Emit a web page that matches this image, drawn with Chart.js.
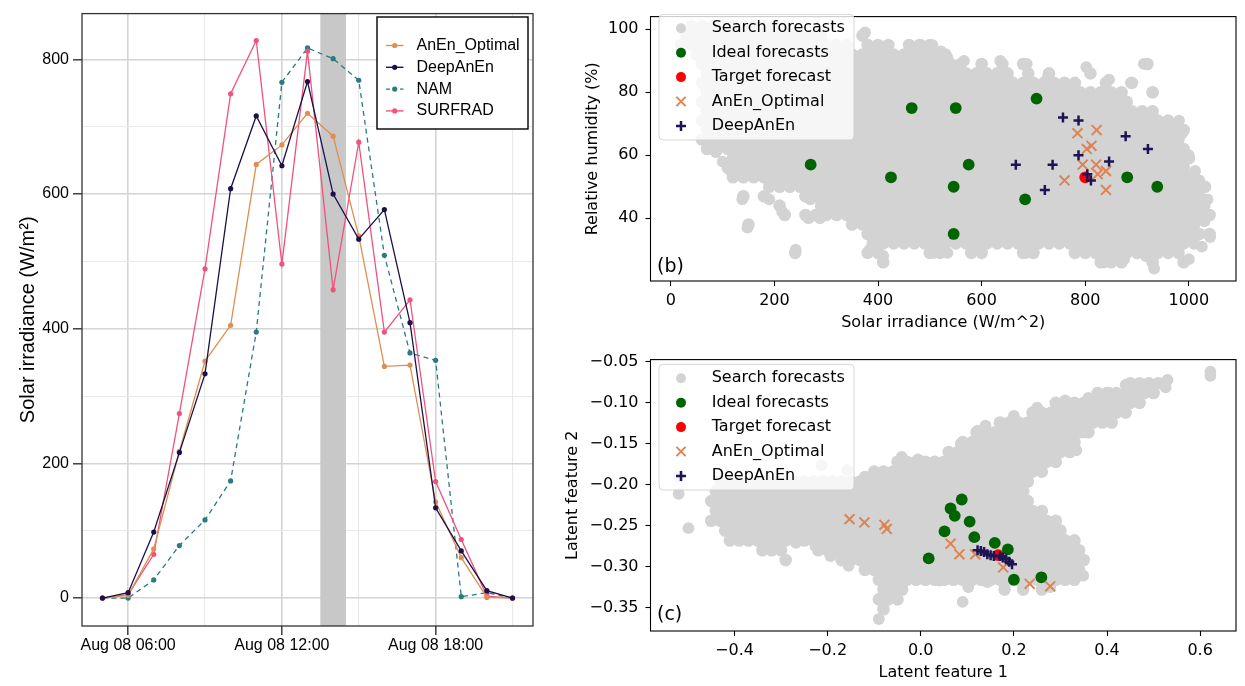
<!DOCTYPE html>
<html>
<head>
<meta charset="UTF-8">
<title>Solar irradiance analogs</title>
<script src="https://cdn.jsdelivr.net/npm/chart.js@4.4.1/dist/chart.umd.min.js"></script>
<style>
  body { margin: 0; background: #fff; }
  #figure { position: relative; width: 1245px; height: 686px; }
  #figure canvas { position: absolute; }
</style>
</head>
<body>
<div id="figure">
  <canvas id="lineChart" width="560" height="686" style="left:0;top:0"></canvas>
  <canvas id="rawChart" width="685" height="343" style="left:560px;top:0"></canvas>
  <canvas id="latentChart" width="685" height="343" style="left:560px;top:343px"></canvas>
</div>
<script>
// (a) hourly irradiance on Aug 08
var hours       = [5, 6, 7, 8, 9, 10, 11, 12, 13, 14, 15, 16, 17, 18, 19, 20, 21];
var anenOptimal = [0, 4, 73, 218, 352, 405, 644, 673, 720, 686, 538, 344, 346, 143, 60, 1, 0];
var deepAnEn    = [0, 8, 98, 216, 333, 608, 716, 642, 767, 600, 533, 577, 409, 134, 70, 11, 0];
var nam         = [0, 0, 27, 78, 116, 174, 395, 766, 817, 801, 769, 509, 364, 353, 2, 8, 0];
var surfrad     = [0, 5, 65, 274, 489, 749, 828, 496, 812, 458, 677, 395, 443, 173, 87, 3, 0];
var hourGrid    = [6, 9, 12, 15, 18, 21];
var labelHours  = [6, 12, 18];
var labelTexts  = ['Aug 08 06:00', 'Aug 08 12:00', 'Aug 08 18:00'];
var irrGrid     = [0, 100, 200, 300, 400, 500, 600, 700, 800];
var irrLabelled = [0, 200, 400, 600, 800];
var shadeFrom = 13.5, shadeTo = 14.5;

// (b) search forecasts, one row per humidity level: [RH, [irradiance...]]
var searchRowsB = [
  [101, [40,60,80,100,120,140,160,180,200,220]],
  [98, [30,50,70,90,110,130,150,170,190,210,230,250,270,290,370]],
  [95, [20,40,60,80,100,120,140,160,180,200,220,240,260,280,300,320,340,380,400,420,460,480,500]],
  [92, [50,70,90,110,130,150,170,190,210,230,250,270,290,310,330,350,370,390,410,430,450,470,490,510,530]],
  [89, [60,80,100,120,140,160,180,200,220,240,260,280,300,320,340,360,380,400,420,440,460,480,500,520,540,560,600,640,680,920]],
  [86, [70,90,110,130,150,170,190,210,230,250,270,290,310,330,350,370,390,410,430,450,470,490,510,530,550,570,590,610,630,650,690,730,810]],
  [83, [60,80,100,120,140,160,180,200,220,240,260,280,300,320,340,360,380,400,420,440,460,480,500,520,540,560,580,600,620,640,660,680,700,720,740,760,780,840,890]],
  [80, [70,90,110,130,150,170,190,210,230,250,270,290,310,330,350,370,390,410,430,450,470,490,510,530,550,570,590,610,630,650,670,690,710,730,750,770,790,810,830,850,870,930]],
  [77, [60,80,100,120,140,160,180,200,220,240,260,280,300,320,340,360,380,400,420,440,460,480,500,520,540,560,580,600,620,640,660,680,700,720,740,760,780,800,820,840,860,880]],
  [74, [70,90,110,130,150,170,190,210,230,250,270,290,310,330,350,370,390,410,430,450,470,490,510,530,550,570,590,610,630,650,670,690,710,730,750,770,790,810,830,850,870,890,910,930]],
  [71, [60,80,100,120,140,160,180,200,220,240,260,280,300,320,340,360,380,400,420,440,460,480,500,520,540,560,580,600,620,640,660,680,700,720,740,760,780,800,820,840,860,880,900,920,940,960]],
  [68, [70,90,110,130,150,170,190,210,230,250,270,290,310,330,350,370,390,410,430,450,470,490,510,530,550,570,590,610,630,650,670,690,710,730,750,770,790,810,830,850,870,890,910,930,950,970,990]],
  [65, [60,80,100,120,140,160,180,200,220,240,260,280,300,320,340,360,380,400,420,440,460,480,500,520,540,560,580,600,620,640,660,680,700,720,740,760,780,800,820,840,860,880,900,920,940,960,980]],
  [62, [70,90,110,130,150,170,190,210,230,250,270,290,310,330,350,370,390,410,430,450,470,490,510,530,550,570,590,610,630,650,670,690,710,730,750,770,790,810,830,850,870,890,910,930,950,970,990]],
  [59, [120,140,160,180,200,220,240,260,280,300,320,340,360,380,400,420,440,460,480,500,520,540,560,580,600,620,640,660,680,700,720,740,760,780,800,820,840,860,880,900,920,940,960,980,1000]],
  [56, [110,130,150,170,190,210,230,250,270,290,310,330,350,370,390,410,430,450,470,490,510,530,550,570,590,610,630,650,670,690,710,730,750,770,790,810,830,850,870,890,910,930,950,970,990]],
  [53, [120,140,160,180,200,220,240,260,280,300,320,340,360,380,400,420,440,460,480,500,520,540,560,580,600,620,640,660,680,700,720,740,760,780,800,820,840,860,880,900,920,940,960,980,1000]],
  [50, [190,210,230,250,270,290,310,330,350,370,390,410,430,450,470,490,510,530,550,570,590,610,630,650,670,690,710,730,750,770,790,810,830,850,870,890,910,930,950,970,990,1010,1030]],
  [47, [140,180,260,280,300,320,340,360,380,400,420,440,460,480,500,520,540,560,580,600,620,640,660,680,700,720,740,760,780,800,820,840,860,880,900,920,940,960,980,1000,1020]],
  [44, [210,290,310,330,350,370,390,410,430,450,470,490,510,530,550,570,590,610,630,650,670,690,710,730,750,770,790,810,830,850,870,890,910,930,950,970,990,1010,1030]],
  [41, [220,260,280,300,320,340,360,380,400,420,440,460,480,500,520,540,560,580,600,620,640,660,680,700,720,740,760,780,800,820,840,860,880,900,920,940,960,980,1000,1020,1040]],
  [38, [150,350,370,390,410,430,450,470,490,510,530,550,570,590,610,630,650,670,690,710,730,750,770,790,810,830,850,870,890,910,930,950,970,990,1010]],
  [35, [380,400,420,440,460,480,500,520,540,560,580,600,620,640,660,680,700,720,740,760,780,800,820,840,860,880,900,920,940,960,980,1000,1020,1040]],
  [32, [390,410,430,450,470,490,510,530,550,570,590,610,630,650,670,690,710,730,750,770,790,810,830,850,870,890,910,930,950,970,990,1010]],
  [29, [240,380,400,500,520,580,600,680,700,780,800,820,840,860,880,900,920,940,960,980]],
  [26, [410,830,850,870,930,990]]
];
var searchExtraB = [[375,99],[400,94],[415,94],[464,94],[483,95],[505,95],[521,93],[534,91],[566,90],[636,90],
  [687,89],[728,85],[802,88],[846,84],[913,89],[888,83],[930,80],[981,71],[987,67],[1000,60],[1012,55],[1020,52],
  [1032,50],[1036,46],[1030,39],[1041,34],[1025,31],[1000,27],[933,24],[917,28],[875,27],[837,26],[687,29],
  [598,31],[534,29],[508,29],[470,33],[444,35],[410,28],[384,30],[400,35],[375,38],[343,43],[349,46],[326,48],
  [304,49],[288,40],[266,40],[241,30],[215,42],[190,46],[269,46],[148,37],[138,46],[151,56],[116,55],[132,59],
  [87,61],[75,64],[170,61],[202,60],[218,57],[100,58]];
var idealB  = [[270,57],[425,53],[465,75],[550,75],[546,50],[575,57],[546,35],[684,46],[706,78],[881,53],[939,50]];
var targetB = [800, 53];
var anenB   = [[785,67],[822,68],[803,62],[812,63],[795,57],[821,57],[840,55],[760,52],[824,54],[840,49]];
var deepB   = [[757,72],[787,71],[878,66],[921,62],[787,60],[846,58],[666,57],[737,57],[804,54],[811,52],[722,49]];
var irrTicksB = [0, 200, 400, 600, 800, 1000];
var rhTicksB  = [40, 60, 80, 100];

// (c) search forecasts in latent space, one row per feature-2 level: [f2, [f1...]]
var searchRowsC = [
  [-0.076, [0.45,0.47,0.49,0.51]],
  [-0.088, [0.38,0.40,0.42,0.44,0.46,0.48,0.50]],
  [-0.100, [0.29,0.31,0.33,0.35,0.37,0.39,0.41,0.43,0.45,0.47]],
  [-0.112, [0.24,0.26,0.28,0.30,0.32,0.34,0.36,0.38,0.40,0.42,0.44]],
  [-0.124, [0.17,0.19,0.21,0.23,0.25,0.27,0.29,0.31,0.33,0.35,0.37,0.39,0.41]],
  [-0.136, [0.12,0.14,0.16,0.18,0.20,0.22,0.24,0.26,0.28,0.30,0.32,0.34,0.36]],
  [-0.148, [0.09,0.11,0.13,0.15,0.17,0.19,0.21,0.23,0.25,0.27,0.29,0.31,0.33]],
  [-0.160, [0.06,0.08,0.10,0.12,0.14,0.16,0.18,0.20,0.22,0.24,0.26,0.28,0.30,0.32]],
  [-0.172, [-0.05,-0.03,-0.01,0.01,0.03,0.05,0.07,0.09,0.11,0.13,0.15,0.17,0.19,0.21,0.23,0.25,0.27,0.29]],
  [-0.184, [-0.10,-0.08,-0.06,-0.04,-0.02,0,0.02,0.04,0.06,0.08,0.10,0.12,0.14,0.16,0.18,0.20,0.22,0.24,0.26]],
  [-0.196, [-0.43,-0.41,-0.39,-0.37,-0.35,-0.33,-0.31,-0.29,-0.27,-0.25,-0.23,-0.21,-0.19,-0.17,-0.15,-0.13,-0.11,-0.09,-0.07,-0.05,-0.03,-0.01,0.01,0.03,0.05,0.07,0.09,0.11,0.13,0.15,0.17,0.19,0.21,0.23]],
  [-0.208, [-0.44,-0.42,-0.40,-0.38,-0.36,-0.34,-0.32,-0.30,-0.28,-0.26,-0.24,-0.22,-0.20,-0.18,-0.16,-0.14,-0.12,-0.10,-0.08,-0.06,-0.04,-0.02,0,0.02,0.04,0.06,0.08,0.10,0.12,0.14,0.16,0.18,0.20,0.22]],
  [-0.220, [-0.45,-0.43,-0.41,-0.39,-0.37,-0.35,-0.33,-0.31,-0.29,-0.27,-0.25,-0.23,-0.21,-0.19,-0.17,-0.15,-0.13,-0.11,-0.09,-0.07,-0.05,-0.03,-0.01,0.01,0.03,0.05,0.07,0.09,0.11,0.13,0.15,0.17,0.19,0.21,0.23]],
  [-0.232, [-0.44,-0.42,-0.40,-0.38,-0.36,-0.34,-0.32,-0.30,-0.28,-0.26,-0.24,-0.22,-0.20,-0.18,-0.16,-0.14,-0.12,-0.10,-0.08,-0.06,-0.04,-0.02,0,0.02,0.04,0.06,0.08,0.10,0.12,0.14,0.16,0.18,0.20,0.22,0.24,0.26]],
  [-0.244, [-0.45,-0.43,-0.41,-0.39,-0.37,-0.35,-0.33,-0.31,-0.29,-0.27,-0.25,-0.23,-0.21,-0.19,-0.17,-0.15,-0.13,-0.11,-0.09,-0.07,-0.05,-0.03,-0.01,0.01,0.03,0.05,0.07,0.09,0.11,0.13,0.15,0.17,0.19,0.21,0.23,0.25,0.27,0.29]],
  [-0.256, [-0.42,-0.40,-0.38,-0.36,-0.34,-0.32,-0.30,-0.28,-0.26,-0.24,-0.22,-0.20,-0.18,-0.16,-0.14,-0.12,-0.10,-0.08,-0.06,-0.04,-0.02,0,0.02,0.04,0.06,0.08,0.10,0.12,0.14,0.16,0.18,0.20,0.22,0.24,0.26,0.28,0.30]],
  [-0.268, [-0.41,-0.39,-0.37,-0.35,-0.33,-0.31,-0.29,-0.27,-0.25,-0.23,-0.21,-0.19,-0.17,-0.15,-0.13,-0.11,-0.09,-0.07,-0.05,-0.03,-0.01,0.01,0.03,0.05,0.07,0.09,0.11,0.13,0.15,0.17,0.19,0.21,0.23,0.25,0.27,0.29,0.31,0.33]],
  [-0.280, [-0.34,-0.32,-0.30,-0.22,-0.20,-0.18,-0.16,-0.14,-0.12,-0.10,-0.08,-0.06,-0.04,-0.02,0,0.02,0.04,0.06,0.08,0.10,0.12,0.14,0.16,0.18,0.20,0.22,0.24,0.26,0.28,0.30,0.32,0.34]],
  [-0.292, [-0.29,-0.17,-0.15,-0.13,-0.11,-0.09,-0.07,-0.05,-0.03,-0.01,0.01,0.03,0.05,0.07,0.09,0.11,0.13,0.15,0.17,0.19,0.21,0.23,0.25,0.27,0.29,0.31,0.33,0.35]],
  [-0.304, [-0.12,-0.10,-0.08,-0.06,-0.04,-0.02,0,0.02,0.04,0.06,0.08,0.10,0.12,0.14,0.16,0.18,0.20,0.22,0.24,0.26,0.28,0.30,0.32,0.34]],
  [-0.316, [-0.09,-0.07,-0.05,-0.03,-0.01,0.01,0.03,0.05,0.07,0.09,0.11,0.13,0.15,0.17,0.19,0.21,0.23,0.25,0.27,0.29,0.31,0.33]],
  [-0.328, [-0.08,-0.06,-0.04,0.18,0.22,0.26]],
  [-0.340, [-0.09,-0.07,-0.05]],
  [-0.352, [-0.08]]
];
var searchExtraC = [[-0.52,-0.19],[-0.52,-0.211],[-0.499,-0.253],[0.622,-0.062],[0.622,-0.067],[0.53,-0.072],
  [0.526,-0.081],[0.49,-0.078],[0.25,-0.106],[0.31,-0.097],[-0.09,-0.364],[0.09,-0.343],[0.102,-0.325],
  [-0.213,-0.176],[-0.158,-0.182],[0.285,-0.17],[0.334,-0.158],[0.349,-0.136],[0.139,-0.128],[0.086,-0.15],
  [0.065,-0.166],[-0.268,-0.271],[-0.226,-0.275],[-0.194,-0.287],[-0.155,-0.299],[0.349,-0.311],[0.278,-0.325],
  [0.04,-0.317],[0.143,-0.319],[0.122,-0.134],[0.2,-0.116],[0.36,-0.094],[0.405,-0.088],[0.44,-0.078],
  [-0.041,-0.166],[-0.006,-0.169],[0.015,-0.176],[-0.12,-0.19]];
var idealC  = [[0.088,-0.218],[0.064,-0.229],[0.073,-0.238],[0.105,-0.245],[0.051,-0.257],[0.115,-0.264],
  [0.159,-0.271],[0.187,-0.279],[0.200,-0.316],[0.259,-0.313],[0.017,-0.290]];
var targetC = [0.166, -0.286];
var anenC   = [[-0.153,-0.242],[-0.121,-0.246],[-0.078,-0.249],[-0.073,-0.254],[0.064,-0.272],[0.083,-0.285],
  [0.117,-0.285],[0.177,-0.301],[0.234,-0.321],[0.278,-0.324]];
var deepC   = [[0.122,-0.280],[0.129,-0.281],[0.136,-0.282],[0.143,-0.285],[0.150,-0.286],[0.157,-0.287],
  [0.170,-0.287],[0.176,-0.289],[0.183,-0.291],[0.190,-0.294],[0.196,-0.297]];
var f1Ticks = [-0.4, -0.2, 0, 0.2, 0.4, 0.6];
var f2Ticks = [-0.35, -0.3, -0.25, -0.2, -0.15, -0.1, -0.05];

var SANS = "'Liberation Sans', Arial, sans-serif";
var DEJAVU = "'DejaVu Sans', sans-serif";
var GRAY = '#d3d3d3', GREEN = '#006400', RED = '#ff0000', ORANGE = '#dd8452', NAVY = '#1c1454';

Chart.defaults.color = '#000';

function frame(color, width) {
  return {
    id: 'frame',
    afterDatasetsDraw: function (chart) {
      var a = chart.chartArea, ctx = chart.ctx;
      ctx.save();
      ctx.strokeStyle = color;
      ctx.lineWidth = width;
      ctx.strokeRect(a.left, a.top, a.right - a.left, a.bottom - a.top);
      ctx.restore();
    }
  };
}

// ---------- (a) line chart ----------
var lineDefs = [
  { label: 'AnEn_Optimal', values: anenOptimal, color: '#e08e50', dash: [], order: 2 },
  { label: 'DeepAnEn', values: deepAnEn, color: '#1b1049', dash: [], order: 1 },
  { label: 'NAM', values: nam, color: '#2a7b80', dash: [5, 4], order: 4 },
  { label: 'SURFRAD', values: surfrad, color: '#f2517d', dash: [], order: 3 }
];

function series(vals) {
  return hours.map(function (h, i) { return { x: h, y: vals[i] }; });
}

var shade = {
  id: 'shade',
  beforeDatasetsDraw: function (chart) {
    var a = chart.chartArea, sx = chart.scales.x, ctx = chart.ctx;
    var x0 = sx.getPixelForValue(shadeFrom), x1 = sx.getPixelForValue(shadeTo);
    ctx.save();
    ctx.fillStyle = '#c8c8c8';
    ctx.fillRect(x0, a.top, x1 - x0, a.bottom - a.top);
    ctx.restore();
  }
};

var lineLegend = {
  id: 'lineLegend',
  afterDraw: function (chart) {
    var ctx = chart.ctx;
    ctx.save();
    ctx.fillStyle = '#fff';
    ctx.fillRect(377, 17, 151, 112);
    ctx.strokeStyle = '#000';
    ctx.lineWidth = 1.4;
    ctx.strokeRect(377, 17, 151, 112);
    ctx.font = '16px ' + SANS;
    ctx.textBaseline = 'middle';
    lineDefs.forEach(function (d, i) {
      var y = 45.5 + i * 21.8;
      ctx.strokeStyle = d.color;
      ctx.lineWidth = 1.4;
      ctx.setLineDash(d.dash.length ? [4, 3] : []);
      ctx.beginPath(); ctx.moveTo(386, y); ctx.lineTo(403.5, y); ctx.stroke();
      ctx.setLineDash([]);
      ctx.fillStyle = d.color;
      ctx.beginPath(); ctx.arc(394.7, y, 2.6, 0, Math.PI * 2); ctx.fill();
      ctx.fillStyle = '#000';
      ctx.fillText(d.label, 416.5, y);
    });
    ctx.restore();
  }
};

function isMajorHour(v) { return labelHours.indexOf(v) >= 0; }
function isMajorIrr(v) { return irrLabelled.indexOf(v) >= 0; }

new Chart(document.getElementById('lineChart'), {
  type: 'line',
  data: {
    datasets: lineDefs.map(function (d) {
      return {
        label: d.label, data: series(d.values), order: d.order,
        borderColor: d.color, borderWidth: 1.3, borderDash: d.dash, tension: 0,
        pointRadius: 2.6, pointBackgroundColor: d.color, pointBorderWidth: 0
      };
    })
  },
  options: {
    responsive: false, animation: false, events: [],
    layout: { padding: { top: 12, right: 27, bottom: 0, left: 0 } },
    plugins: { legend: { display: false }, tooltip: { enabled: false } },
    scales: {
      x: {
        type: 'linear', min: 4.2, max: 21.8,
        afterBuildTicks: function (s) { s.ticks = hourGrid.map(function (v) { return { value: v }; }); },
        afterFit: function (s) { s.height = 60; },
        ticks: {
          autoSkip: false, maxRotation: 0, padding: 1, color: '#000',
          font: { family: SANS, size: 16 },
          callback: function (v) { var i = labelHours.indexOf(v); return i < 0 ? '' : labelTexts[i]; }
        },
        grid: {
          color: function (c) { return isMajorHour(c.tick.value) ? '#d4d4d4' : '#e9e9e9'; },
          lineWidth: function (c) { return isMajorHour(c.tick.value) ? 1.6 : 1.1; },
          tickLength: 9, tickWidth: 1.4,
          tickColor: function (c) { return isMajorHour(c.tick.value) ? '#333' : 'rgba(0,0,0,0)'; }
        },
        border: { display: false }
      },
      y: {
        min: -41.5, max: 868,
        afterBuildTicks: function (s) { s.ticks = irrGrid.map(function (v) { return { value: v }; }); },
        afterFit: function (s) { s.width = 82; },
        ticks: {
          padding: 4, color: '#000', font: { family: SANS, size: 16 },
          callback: function (v) { return isMajorIrr(v) ? String(v) : ''; }
        },
        grid: {
          color: function (c) { return isMajorIrr(c.tick.value) ? '#d4d4d4' : '#e9e9e9'; },
          lineWidth: function (c) { return isMajorIrr(c.tick.value) ? 1.6 : 1.1; },
          tickLength: 9, tickWidth: 1.4,
          tickColor: function (c) { return isMajorIrr(c.tick.value) ? '#333' : 'rgba(0,0,0,0)'; }
        },
        border: { display: false },
        title: {
          display: true, text: 'Solar irradiance (W/m\u00b2)', color: '#000',
          font: { family: SANS, size: 20 }, padding: { top: 16, bottom: 0 }
        }
      }
    }
  },
  plugins: [shade, frame('#333', 1.3), lineLegend]
});

// ---------- (b) and (c) scatter charts ----------
function rowsToPoints(rows) {
  var pts = [];
  rows.forEach(function (r) {
    r[1].forEach(function (x) { pts.push({ x: x, y: r[0] }); });
  });
  return pts;
}
function pairsToPoints(pairs) {
  return pairs.map(function (p) { return { x: p[0], y: p[1] }; });
}

var legendRows = [
  { label: 'Search forecasts', style: 'dot', color: GRAY },
  { label: 'Ideal forecasts', style: 'dot', color: GREEN },
  { label: 'Target forecast', style: 'dot', color: RED },
  { label: 'AnEn_Optimal', style: 'x', color: ORANGE },
  { label: 'DeepAnEn', style: 'plus', color: NAVY }
];

function roundRect(ctx, x, y, w, h, r) {
  ctx.beginPath();
  ctx.moveTo(x + r, y);
  ctx.arcTo(x + w, y, x + w, y + h, r);
  ctx.arcTo(x + w, y + h, x, y + h, r);
  ctx.arcTo(x, y + h, x, y, r);
  ctx.arcTo(x, y, x + w, y, r);
  ctx.closePath();
}

function scatterLegend(top, tag, tagY) {
  return {
    id: 'scatterLegend',
    afterDraw: function (chart) {
      var ctx = chart.ctx;
      ctx.save();
      roundRect(ctx, 99, top, 195, 125.7, 4);
      ctx.fillStyle = 'rgba(255,255,255,0.8)';
      ctx.fill();
      ctx.strokeStyle = 'rgba(204,204,204,0.8)';
      ctx.lineWidth = 1;
      ctx.stroke();
      ctx.font = '16px ' + DEJAVU;
      ctx.textBaseline = 'middle';
      legendRows.forEach(function (r, i) {
        var y = top + 14 + i * 24.4, x = 121;
        ctx.fillStyle = r.color;
        ctx.strokeStyle = r.color;
        if (r.style === 'dot') {
          ctx.beginPath(); ctx.arc(x, y, 5, 0, Math.PI * 2); ctx.fill();
        } else if (r.style === 'x') {
          ctx.lineWidth = 2;
          ctx.beginPath();
          ctx.moveTo(x - 4.6, y - 4.6); ctx.lineTo(x + 4.6, y + 4.6);
          ctx.moveTo(x - 4.6, y + 4.6); ctx.lineTo(x + 4.6, y - 4.6);
          ctx.stroke();
        } else {
          ctx.lineWidth = 2.5;
          ctx.beginPath();
          ctx.moveTo(x - 5, y); ctx.lineTo(x + 5, y);
          ctx.moveTo(x, y - 5); ctx.lineTo(x, y + 5);
          ctx.stroke();
        }
        ctx.fillStyle = '#000';
        ctx.fillText(r.label, 151.7, y);
      });
      ctx.font = '19px ' + DEJAVU;
      ctx.fillText(tag, 97, tagY);
      ctx.restore();
    }
  };
}

function scatterChart(id, o) {
  var font16 = { family: DEJAVU, size: 16 };
  return new Chart(document.getElementById(id), {
    type: 'scatter',
    data: {
      datasets: [
        // dense body of the search cloud, then its scattered edge points
        { label: 'Search forecasts', data: o.search, order: 6,
          pointRadius: 6.3, pointBackgroundColor: GRAY, pointBorderWidth: 0 },
        { label: 'Search forecasts', data: o.searchEdge, order: 5,
          pointRadius: 5.9, pointBackgroundColor: GRAY, pointBorderWidth: 0 },
        { label: 'Ideal forecasts', data: o.ideal, order: 4,
          pointRadius: 5.9, pointBackgroundColor: GREEN, pointBorderWidth: 0 },
        { label: 'Target forecast', data: o.target, order: 3,
          pointRadius: 5.9, pointBackgroundColor: RED, pointBorderWidth: 0 },
        { label: 'AnEn_Optimal', data: o.anen, order: 2,
          pointStyle: 'crossRot', pointRadius: 7, pointBorderColor: ORANGE, pointBorderWidth: 2 },
        { label: 'DeepAnEn', data: o.deep, order: 1,
          pointStyle: 'cross', pointRadius: 5, pointBorderColor: NAVY, pointBorderWidth: 2.5 }
      ]
    },
    options: {
      responsive: false, animation: false, events: [],
      layout: { padding: { top: o.top, right: 4, bottom: 0, left: 0 } },
      plugins: { legend: { display: false }, tooltip: { enabled: false } },
      scales: {
        x: {
          type: 'linear', min: o.xMin, max: o.xMax,
          afterBuildTicks: function (s) { s.ticks = o.xTicks.map(function (v) { return { value: v }; }); },
          afterFit: function (s) { s.height = o.xAxisH; },
          ticks: { autoSkip: false, maxRotation: 0, padding: 5, color: '#000', font: font16, callback: o.xFmt },
          grid: { drawOnChartArea: false, tickLength: 5, tickWidth: 1.1, tickColor: '#000' },
          border: { display: false },
          title: { display: true, text: o.xTitle, color: '#000', font: font16, padding: { top: 0, bottom: o.xTitlePad } }
        },
        y: {
          type: 'linear', min: o.yMin, max: o.yMax,
          afterBuildTicks: function (s) { s.ticks = o.yTicks.map(function (v) { return { value: v }; }); },
          afterFit: function (s) { s.width = 90.5; },
          ticks: { autoSkip: false, padding: 7, color: '#000', font: font16, callback: o.yFmt },
          grid: { drawOnChartArea: false, tickLength: 5, tickWidth: 1.1, tickColor: '#000' },
          border: { display: false },
          title: { display: true, text: o.yTitle, color: '#000', font: font16, padding: { top: o.yTitlePad, bottom: 0 } }
        }
      }
    },
    plugins: [frame('#000', 1.1), scatterLegend(o.legendTop, o.tag, o.tagY)]
  });
}

function minusSign(s) { return s.replace('-', '\u2212'); }

scatterChart('rawChart', {
  search: rowsToPoints(searchRowsB), searchEdge: pairsToPoints(searchExtraB),
  ideal: pairsToPoints(idealB), target: pairsToPoints([targetB]),
  anen: pairsToPoints(anenB), deep: pairsToPoints(deepB),
  xMin: -39.2, xMax: 1091, yMin: 20.06, yMax: 104.04,
  xTicks: irrTicksB, yTicks: rhTicksB,
  xFmt: function (v) { return String(v); }, yFmt: function (v) { return String(v); },
  xTitle: 'Solar irradiance (W/m^2)', yTitle: 'Relative humidity (%)',
  top: 5, xAxisH: 62, xTitlePad: 10.7, yTitlePad: 23.4,
  legendTop: 14.3, tag: '(b)', tagY: 267
});

scatterChart('latentChart', {
  search: rowsToPoints(searchRowsC), searchEdge: pairsToPoints(searchExtraC),
  ideal: pairsToPoints(idealC), target: pairsToPoints([targetC]),
  anen: pairsToPoints(anenC), deep: pairsToPoints(deepC),
  xMin: -0.5804, xMax: 0.677, yMin: -0.3786, yMax: -0.0472,
  xTicks: f1Ticks, yTicks: f2Ticks,
  xFmt: function (v) { return minusSign(v.toFixed(1)); },
  yFmt: function (v) { return minusSign(v.toFixed(2)); },
  xTitle: 'Latent feature 1', yTitle: 'Latent feature 2',
  top: 13, xAxisH: 55, xTitlePad: 3.7, yTitlePad: 3.4,
  legendTop: 21.3, tag: '(c)', tagY: 272
});
</script>
</body>
</html>
